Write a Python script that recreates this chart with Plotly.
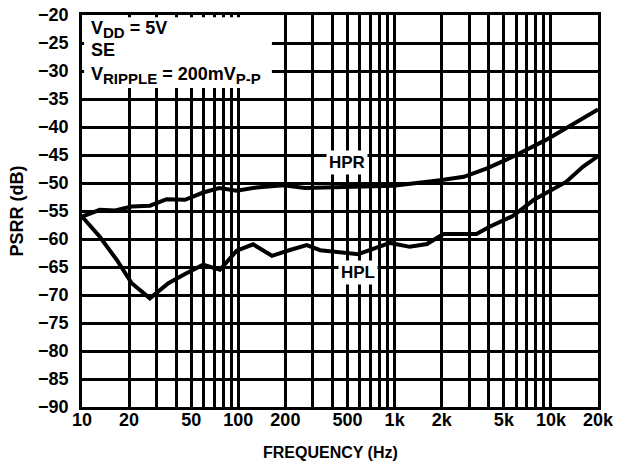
import plotly.graph_objects as go

# HPR curve
hpr_freq = [10, 13, 16.3, 20.8, 27.2, 34.8, 45.6, 59.6, 75.5, 97.7, 131, 194, 267, 367, 600,
            982, 1950, 2770, 3900, 5700, 9300, 15300, 20000]
hpr_db = [-56.0, -54.8, -54.9, -54.2, -54.05, -52.9, -53.0, -51.7, -50.9, -51.4, -50.8, -50.4,
          -50.9, -50.8, -50.8, -50.5, -49.5, -48.9, -47.4, -45.3, -42.3, -38.75, -36.85]

# HPL curve
hpl_freq = [10, 13, 16.7, 20.8, 27.2, 35.7, 45.6, 59.6, 76.3, 97.7, 124.5, 164, 214, 274, 334,
            446, 585, 935, 1250, 1610, 2050, 3340, 4050, 5700, 7780, 12500, 16000, 20000]
hpl_db = [-56.0, -59.6, -63.75, -67.9, -70.6, -67.9, -66.25, -64.6, -65.5, -62.1, -60.95, -63.0,
          -61.96, -61.1, -62.0, -62.3, -62.7, -60.7, -61.4, -60.9, -59.1, -59.1, -57.8, -55.9,
          -53.0, -49.8, -47.1, -45.2]

x_tickvals = [10, 20, 50, 100, 200, 500, 1000, 2000, 5000, 10000, 20000]
x_ticktext = ["10", "20", "50", "100", "200", "500", "1k", "2k", "5k", "10k", "20k"]
x_minor = [30, 40, 60, 70, 80, 90, 300, 400, 600, 700, 800, 900,
           3000, 4000, 6000, 7000, 8000, 9000]
y_tickvals = list(range(-90, -15, 5))

FONT = "Liberation Sans"
GW = 2.5

fig = go.Figure()
fig.add_trace(go.Scatter(x=hpr_freq, y=hpr_db, mode="lines",
                         line=dict(color="black", width=4), showlegend=False))
fig.add_trace(go.Scatter(x=hpl_freq, y=hpl_db, mode="lines",
                         line=dict(color="black", width=4), showlegend=False))

fig.update_layout(
    width=624, height=467,
    margin=dict(l=82, r=26, t=15, b=60),
    paper_bgcolor="white", plot_bgcolor="white",
    font=dict(family=FONT, size=17, color="black", weight="bold"),
    xaxis=dict(
        type="log", range=[1, 4.30103], automargin=False,
        tickvals=x_tickvals, ticktext=x_ticktext,
        showgrid=True, gridcolor="black", gridwidth=GW,
        minor=dict(tickvals=x_minor, showgrid=True, gridcolor="black", gridwidth=GW, ticks=""),
        showline=True, mirror=True, linecolor="black", linewidth=GW,
        ticks="", ticklen=0, ticklabelstandoff=-5,
        tickfont=dict(family=FONT, size=18, weight="bold"),
        zeroline=False,
    ),
    yaxis=dict(
        range=[-90, -20], tickvals=y_tickvals, automargin=False,
        showgrid=True, gridcolor="black", gridwidth=GW,
        showline=True, mirror=True, linecolor="black", linewidth=GW,
        ticks="", ticklabelstandoff=7,
        tickfont=dict(family=FONT, size=18, weight="bold"),
        title=dict(text="PSRR (dB)", standoff=10,
                   font=dict(family=FONT, size=18, weight="bold")),
        zeroline=False,
    ),
)

# x-axis title (placed slightly left of centre as in the reference)
fig.add_annotation(xref="paper", yref="paper", x=0.481, y=-0.117, xanchor="center", yanchor="middle",
                   text="FREQUENCY (Hz)", showarrow=False,
                   font=dict(family=FONT, size=16, weight="bold"))

# white box behind condition text
fig.add_shape(type="rect", xref="paper", yref="paper", x0=0.004, x1=0.368, y0=0.814, y1=0.994,
              fillcolor="white", line=dict(width=0), layer="above")

SUB = "<sub><span style='font-size:15px'>{}</span></sub>"
fig.add_annotation(xref="paper", yref="paper", x=0.0135, y=0.962, xanchor="left", yanchor="middle",
                   text="V" + SUB.format("DD") + " = 5V", showarrow=False,
                   font=dict(family=FONT, size=18, weight="bold"))
fig.add_annotation(xref="paper", yref="paper", x=0.0135, y=0.911, xanchor="left", yanchor="middle",
                   text="SE", showarrow=False,
                   font=dict(family=FONT, size=18, weight="bold"))
fig.add_annotation(xref="paper", yref="paper", x=0.0135, y=0.846, xanchor="left", yanchor="middle",
                   text="V" + SUB.format("RIPPLE") + " = 200mV" + SUB.format("P-P"), showarrow=False,
                   font=dict(family=FONT, size=18, weight="bold"))

fig.add_annotation(x=2.696, y=-46.4, text="HPR", showarrow=False, bgcolor="white",
                   font=dict(family=FONT, size=17, weight="bold"), borderpad=2)
fig.add_annotation(x=2.766, y=-65.9, text="HPL", showarrow=False, bgcolor="white",
                   font=dict(family=FONT, size=17, weight="bold"), borderpad=2)

fig.write_html("out.html", config={"displayModeBar": False},
               post_script="document.body.style.margin='0px';")
